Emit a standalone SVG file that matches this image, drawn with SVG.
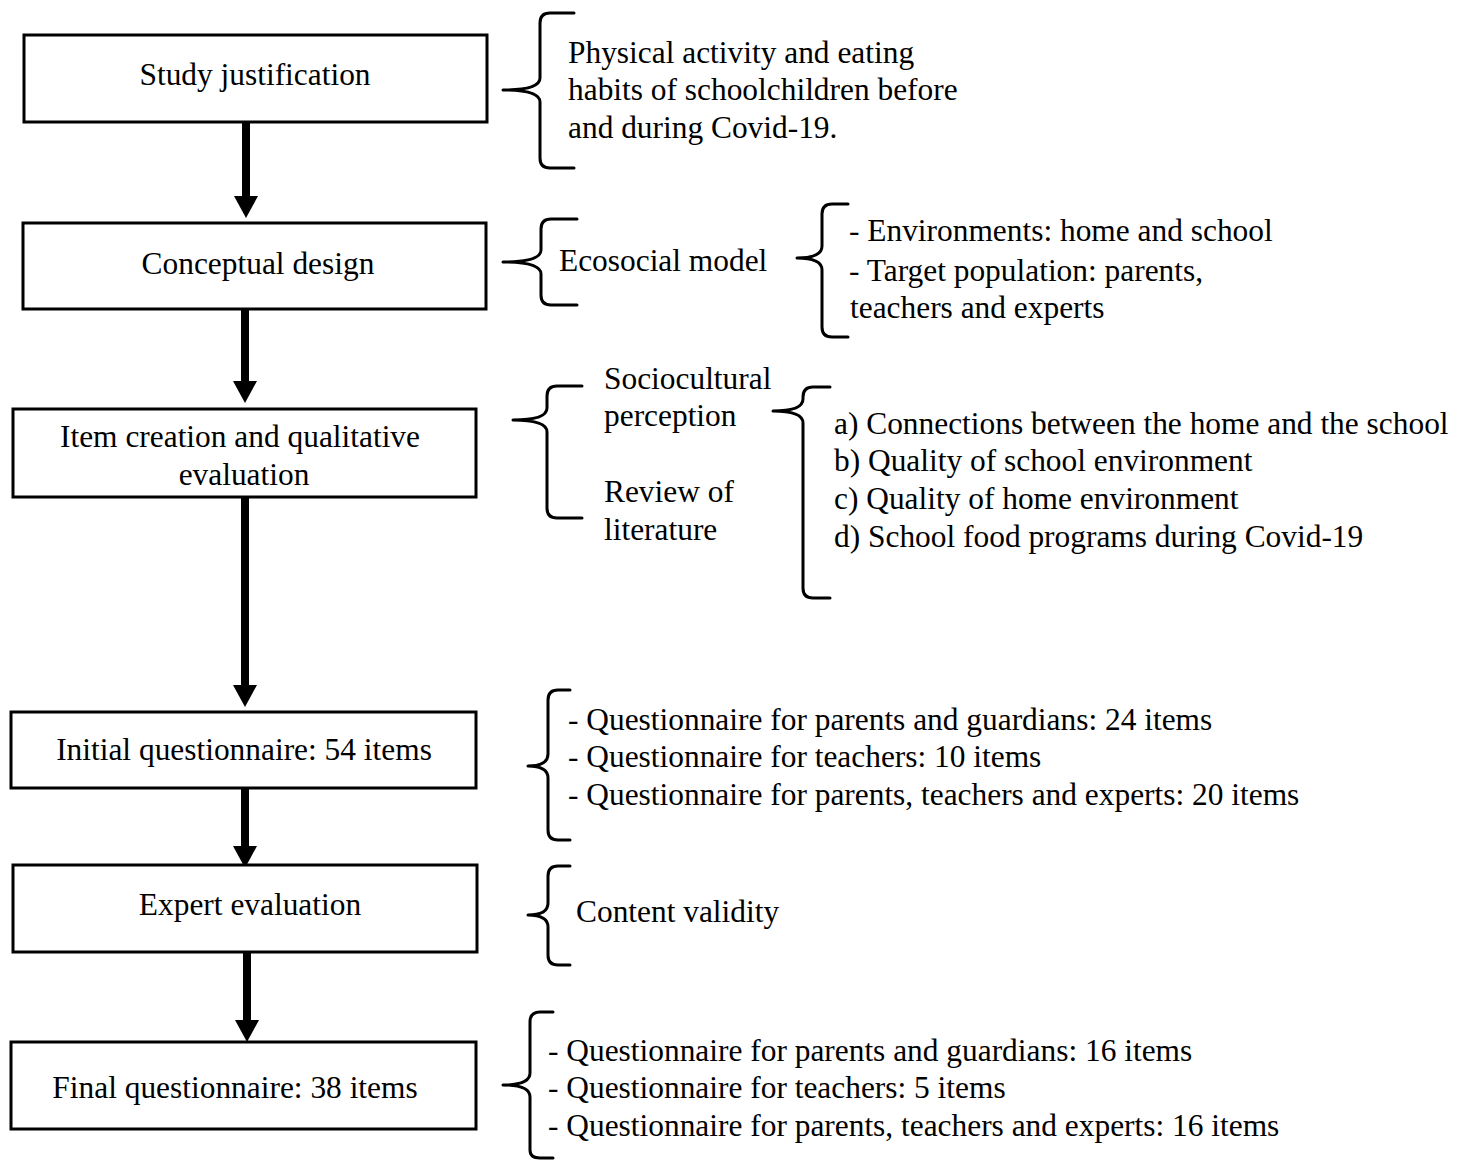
<svg xmlns="http://www.w3.org/2000/svg" width="1468" height="1160" viewBox="0 0 1468 1160">
<style>
.box{fill:#fff;stroke:#000;stroke-width:3}
.t{font-family:"Liberation Serif","Times New Roman",serif;font-size:31.4px;fill:#000}
.c{text-anchor:middle}
.brace{fill:none;stroke:#000;stroke-width:3;stroke-linecap:round;stroke-linejoin:round}
.shaft{stroke:#000;stroke-width:8}
.head{fill:#000}
</style>
<rect width="1468" height="1160" fill="#fff"/>
<g id="connectors">
<line class="shaft" x1="246" y1="122" x2="246" y2="200"/><polygon class="head" points="234,196 258,196 246,218"/>
<line class="shaft" x1="245" y1="309" x2="245" y2="385"/><polygon class="head" points="233,381 257,381 245,403"/>
<line class="shaft" x1="245" y1="497" x2="245" y2="689"/><polygon class="head" points="233,685 257,685 245,707"/>
<line class="shaft" x1="245" y1="788" x2="245" y2="850"/><polygon class="head" points="233,846 257,846 245,868"/>
<line class="shaft" x1="247" y1="952" x2="247" y2="1024"/><polygon class="head" points="235,1020 259,1020 247,1042"/>
</g>
<g id="node-study">
<rect class="box" x="24" y="35" width="463" height="87"/>
<text class="t c" x="255" y="85">Study justification</text>
</g>
<g id="node-conceptual">
<rect class="box" x="23" y="223" width="463" height="86"/>
<text class="t c" x="258" y="274">Conceptual design</text>
</g>
<g id="node-item">
<rect class="box" x="13" y="409" width="463" height="88"/>
<text class="t c" x="240" y="447">Item creation and qualitative</text>
<text class="t c" x="244" y="485">evaluation</text>
</g>
<g id="node-initial">
<rect class="box" x="11" y="712" width="465" height="76"/>
<text class="t c" x="244" y="760">Initial questionnaire: 54 items</text>
</g>
<g id="node-expert">
<rect class="box" x="13" y="865" width="464" height="87"/>
<text class="t c" x="250" y="915">Expert evaluation</text>
</g>
<g id="node-final">
<rect class="box" x="11" y="1042" width="465" height="87"/>
<text class="t c" x="235" y="1098">Final questionnaire: 38 items</text>
</g>
<g id="note-justification">
<path class="brace" d="M574,13 L550,13 Q540,13 540,23 L540,78 Q540,90 503,90 Q540,90 540,102 L540,158 Q540,168 550,168 L574,168"/>
<text class="t" x="568" y="63">Physical activity and eating</text>
<text class="t" x="568" y="100">habits of schoolchildren before</text>
<text class="t" x="568" y="138">and during Covid-19.</text>
</g>
<g id="note-ecosocial">
<path class="brace" d="M577,219 L551,219 Q541,219 541,229 L541,250 Q541,262 503,262 Q541,262 541,274 L541,295 Q541,305 551,305 L577,305"/>
<text class="t" x="559" y="271">Ecosocial model</text>
</g>
<g id="note-environments">
<path class="brace" d="M848,204 L832,204 Q822,204 822,214 L822,246 Q822,258 797,258 Q822,258 822,270 L822,327 Q822,337 832,337 L848,337"/>
<text class="t" x="849" y="241">- Environments: home and school</text>
<text class="t" x="849" y="281">- Target population: parents,</text>
<text class="t" x="850" y="318">teachers and experts</text>
</g>
<g id="note-sources">
<path class="brace" d="M582,386 L557,386 Q547,386 547,396 L547,408 Q547,420 513,420 Q547,420 547,432 L547,508 Q547,518 557,518 L582,518"/>
<text class="t" x="604" y="389">Sociocultural</text>
<text class="t" x="604" y="426">perception</text>
<text class="t" x="604" y="502">Review of</text>
<text class="t" x="604" y="540">literature</text>
</g>
<g id="note-dimensions">
<path class="brace" d="M830,387 L813,387 Q803,387 803,397 L803,399 Q803,411 773,411 Q803,411 803,423 L803,588 Q803,598 813,598 L830,598"/>
<text class="t" x="834" y="434">a) Connections between the home and the school</text>
<text class="t" x="834" y="471">b) Quality of school environment</text>
<text class="t" x="834" y="509">c) Quality of home environment</text>
<text class="t" x="834" y="547">d) School food programs during Covid-19</text>
</g>
<g id="note-initial">
<path class="brace" d="M570,690 L558,690 Q548,690 548,700 L548,754 Q548,766 528,766 Q548,766 548,778 L548,830 Q548,840 558,840 L570,840"/>
<text class="t" x="568" y="730">- Questionnaire for parents and guardians: 24 items</text>
<text class="t" x="568" y="767">- Questionnaire for teachers: 10 items</text>
<text class="t" x="568" y="805">- Questionnaire for parents, teachers and experts: 20 items</text>
</g>
<g id="note-content">
<path class="brace" d="M570,866 L558,866 Q548,866 548,876 L548,903 Q548,915 528,915 Q548,915 548,927 L548,955 Q548,965 558,965 L570,965"/>
<text class="t" x="576" y="922">Content validity</text>
</g>
<g id="note-final">
<path class="brace" d="M553,1012 L540,1012 Q530,1012 530,1022 L530,1073 Q530,1085 503,1085 Q530,1085 530,1097 L530,1150 Q530,1158 540,1158 L553,1158"/>
<text class="t" x="548" y="1061">- Questionnaire for parents and guardians: 16 items</text>
<text class="t" x="548" y="1098">- Questionnaire for teachers: 5 items</text>
<text class="t" x="548" y="1136">- Questionnaire for parents, teachers and experts: 16 items</text>
</g>
</svg>
